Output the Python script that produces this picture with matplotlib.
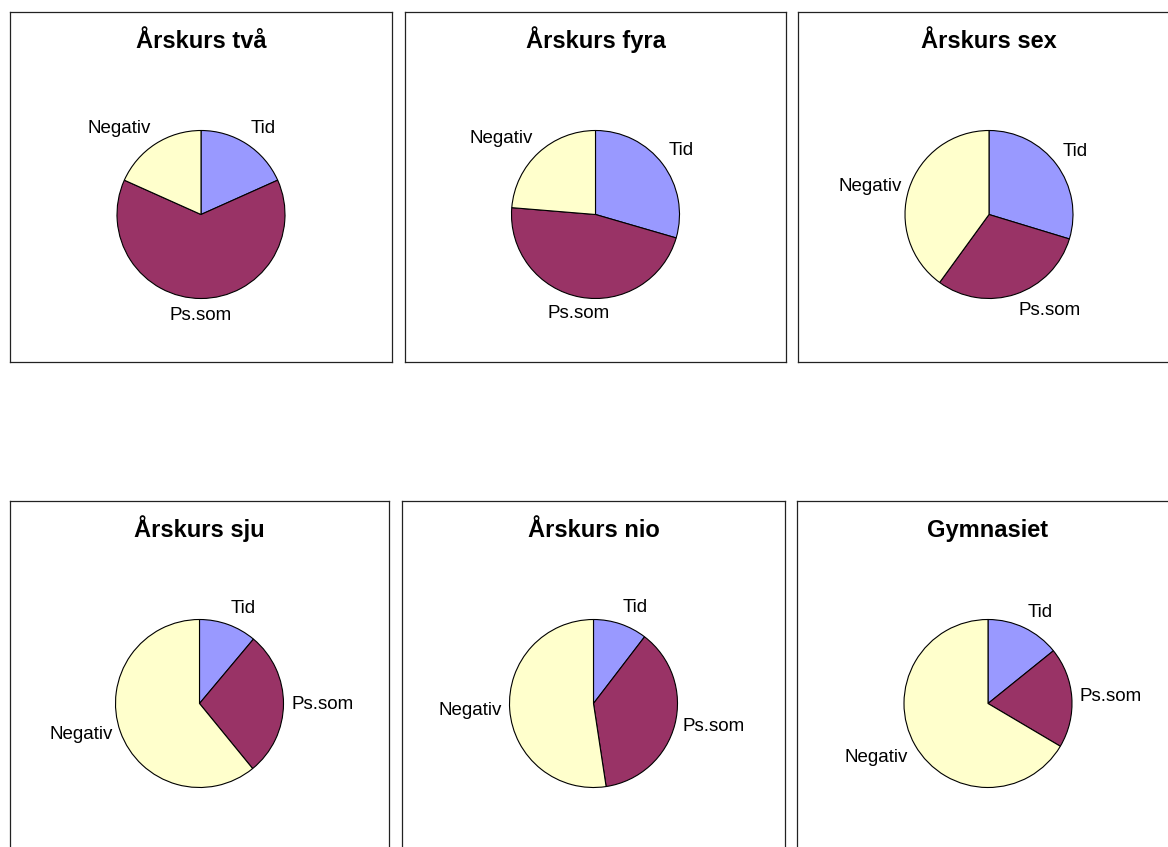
import matplotlib
matplotlib.use("Agg")
import matplotlib.pyplot as plt
import numpy as np

# Survey answers per school year (percent of answers)
categories = ["Tid", "Ps.som", "Negativ"]
titles = ["Årskurs två", "Årskurs fyra", "Årskurs sex",
          "Årskurs sju", "Årskurs nio", "Gymnasiet"]
tid = [18.3, 29.5, 29.7, 11.1, 10.4, 14.2]
ps_som = [63.4, 46.8, 30.3, 28.0, 37.2, 19.3]
negativ = [18.3, 23.7, 40.0, 60.9, 52.4, 66.5]
colors = ["#9999FF", "#993366", "#FFFFCC"]

plt.rcParams['font.family'] = ['Liberation Sans', 'DejaVu Sans']

W, H = 1168, 847
fig = plt.figure(figsize=(W / 100, H / 100), dpi=100)

# chart boxes in pixels: left, top, right, bottom
frames = [(10, 12, 392, 362), (405, 12, 786, 362), (798, 12, 1180, 362),
          (10, 501, 389, 851), (402, 501, 785, 851), (797, 501, 1179, 851)]

R = 84
for i, (x0, y0, x1, y1) in enumerate(frames):
    w, h = x1 - x0, y1 - y0
    ax = fig.add_axes([x0 / W, 1 - y1 / H, w / W, h / H])
    values = [tid[i], ps_som[i], negativ[i]]
    cx, cy = w / 2, h - 202.5
    wedges, _ = ax.pie(values, colors=colors, startangle=90, counterclock=False,
                       radius=R, center=(cx, cy), frame=True,
                       wedgeprops=dict(edgecolor='black', linewidth=0.8))
    ax.set_xlim(0, w)
    ax.set_ylim(0, h)
    ax.set_aspect('auto')
    ax.set_xticks([])
    ax.set_yticks([])
    for s in ax.spines.values():
        s.set_linewidth(0.9)
        s.set_color('#222222')

    ax.text(w / 2, h - 36, titles[i], ha='center', va='baseline',
            fontsize=17, fontweight='bold')

    for wedge, lab in zip(wedges, categories):
        mid = np.deg2rad((wedge.theta1 + wedge.theta2) / 2)
        ux, uy = np.cos(mid), np.sin(mid)
        d = R + 8
        tx, ty = cx + d * ux, cy + d * uy
        ha = 'left' if ux > 0.25 else ('right' if ux < -0.25 else 'center')
        va = 'bottom' if uy > 0.4 else ('top' if uy < -0.4 else 'center')
        ax.text(tx, ty, lab, ha=ha, va=va, fontsize=13.5)

fig.savefig("out.png", dpi=100, facecolor='white')
